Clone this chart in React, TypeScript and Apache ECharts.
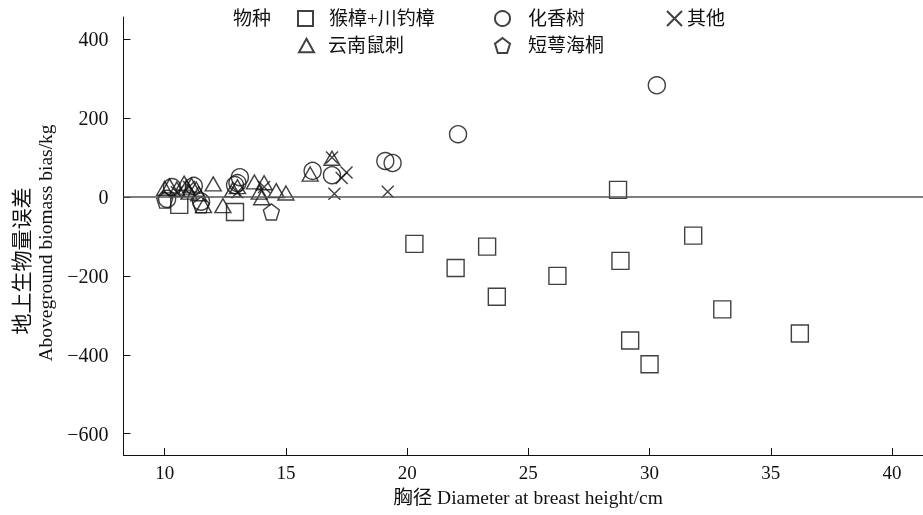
import React, { useEffect, useRef } from "react";
import * as echarts from "echarts";

const seriesNames = ["猴樟+川钓樟", "化香树", "其他", "云南鼠刺", "短萼海桐"];
const legendTitle = "物种";
const xTitle = "胸径 Diameter at breast height/cm";
const yTitleCn = "地上生物量误差";
const yTitleEn = "Aboveground biomass bias/kg";
const xTicks = [10, 15, 20, 25, 30, 35, 40];
const yTicks = [-600, -400, -200, 0, 200, 400];

// [diameter (cm), bias (kg)]
const squares = [
  [10.6, -20], [12.9, -38], [20.3, -119], [22.0, -180], [23.3, -126], [23.7, -253],
  [26.2, -200], [28.7, 18], [28.8, -162], [29.2, -364], [30.0, -424], [31.8, -98],
  [33.0, -285], [36.2, -346],
];
const circles = [
  [10.1, -5], [10.3, 25], [11.2, 28], [11.5, -12], [12.9, 30], [13.0, 35], [13.1, 50],
  [16.1, 66], [16.9, 55], [19.1, 91], [19.4, 86], [22.1, 159], [30.3, 283],
];
const crosses = [
  [10.5, 12], [11.0, 25], [13.0, 12], [14.1, 25], [16.9, 100], [17.0, 8], [17.3, 48],
  [17.5, 62], [19.2, 13],
];
const triangles = [
  [10.0, 22], [10.2, 28], [10.5, 20], [10.8, 35], [10.9, 25], [11.0, 12], [11.1, 30],
  [11.3, 20], [11.4, 8], [11.6, -22], [12.0, 33], [12.4, -22], [12.8, 18], [13.0, 26],
  [13.7, 38], [13.9, 12], [14.0, -2], [14.1, 36], [14.6, 16], [15.0, 10], [16.0, 58],
  [16.9, 98],
];
const pentagons = [[10.0, -8], [11.5, -20], [14.4, -38]];

const SERIF = "Liberation Serif, Noto Sans CJK SC, serif";
const INK = "#111";

const crossPath = "path://M0,0L10,10M10,0L0,10";
const pentPath = "path://M5,0L10,3.8L8.1,10L1.9,10L0,3.8Z";
const triPath = "path://M5,0L10,9L0,9Z";

export default function App() {
  const ref = useRef<HTMLDivElement>(null);
  useEffect(() => {
    if (!ref.current) return;
    const chart = echarts.init(ref.current, null, { renderer: "svg" });
    const mk = (name: string, data: number[][], symbol: string, size: any, extra: any = {}) => ({
      name,
      type: "scatter",
      data,
      symbol,
      symbolSize: size,
      itemStyle: { color: "transparent", borderColor: INK, borderWidth: 1.4 },
      emphasis: { disabled: true },
      ...extra,
    });
    const legendItem = (name: string, left: number, top: number, pad: number) => ({
      data: [name],
      left,
      top,
      padding: 0,
      itemWidth: 15,
      itemHeight: 15,
      selectedMode: false,
      textStyle: { fontSize: 19, fontFamily: SERIF, color: INK, padding: [0, 0, 0, pad] },
    });
    const minus = (v: number) => String(v).replace("-", "\u2212");
    const option = {
      animation: false,
      grid: { left: 123.5, right: 0, top: 17, bottom: 60 },
      xAxis: {
        type: "value",
        min: 8.3,
        max: 41.28,
        axisLine: { show: true, onZero: false, lineStyle: { color: INK, width: 1 } },
        axisTick: { show: true, inside: true, length: 7, customValues: xTicks, lineStyle: { color: INK } },
        axisLabel: { customValues: xTicks, fontSize: 19, fontFamily: SERIF, color: INK, margin: 8 },
        splitLine: { show: false },
      },
      yAxis: {
        type: "value",
        min: -654,
        max: 456,
        axisLine: { show: true, onZero: false, lineStyle: { color: INK, width: 1 } },
        axisTick: { show: true, inside: true, length: 7, customValues: yTicks, lineStyle: { color: INK } },
        axisLabel: { customValues: yTicks, formatter: minus, fontSize: 20, fontFamily: SERIF, color: INK, margin: 15 },
        splitLine: { show: false },
      },
      legend: [
        legendItem(seriesNames[0], 297, 9, 11),
        legendItem(seriesNames[1], 494, 9, 13),
        legendItem(seriesNames[2], 666, 9, 0),
        legendItem(seriesNames[3], 298, 36, 9),
        legendItem(seriesNames[4], 494, 36, 13),
      ],
      graphic: [
        {
          type: "text",
          x: 233,
          y: 18,
          style: { text: legendTitle, fontSize: 19, fontFamily: SERIF, fill: INK, textVerticalAlign: "middle" },
        },
        {
          type: "text",
          x: 22,
          y: 261,
          rotation: Math.PI / 2,
          style: { text: yTitleCn, fontSize: 21, fontFamily: SERIF, fill: INK, textAlign: "center", textVerticalAlign: "middle" },
        },
        {
          type: "text",
          x: 45,
          y: 243,
          rotation: Math.PI / 2,
          style: { text: yTitleEn, fontSize: 19.5, fontFamily: SERIF, fill: INK, textAlign: "center", textVerticalAlign: "middle" },
        },
        {
          type: "text",
          x: 528,
          y: 497,
          style: { text: xTitle, fontSize: 19.5, fontFamily: SERIF, fill: INK, textAlign: "center", textVerticalAlign: "middle" },
        },
      ],
      series: [
        mk(seriesNames[0], squares, "rect", 17, {
          markLine: {
            silent: true,
            symbol: "none",
            label: { show: false },
            lineStyle: { color: "#555", type: "solid", width: 1.5 },
            data: [{ yAxis: 0 }],
          },
        }),
        mk(seriesNames[1], circles, "circle", 17),
        mk(seriesNames[2], crosses, crossPath, 12),
        mk(seriesNames[3], triangles, triPath, [16, 14]),
        mk(seriesNames[4], pentagons, pentPath, 16),
      ],
    };
    chart.setOption(option as any);
    return () => chart.dispose();
  }, []);
  return <div ref={ref} style={{ position: "fixed", left: 0, top: 0, width: 923, height: 515 }} />;
}
